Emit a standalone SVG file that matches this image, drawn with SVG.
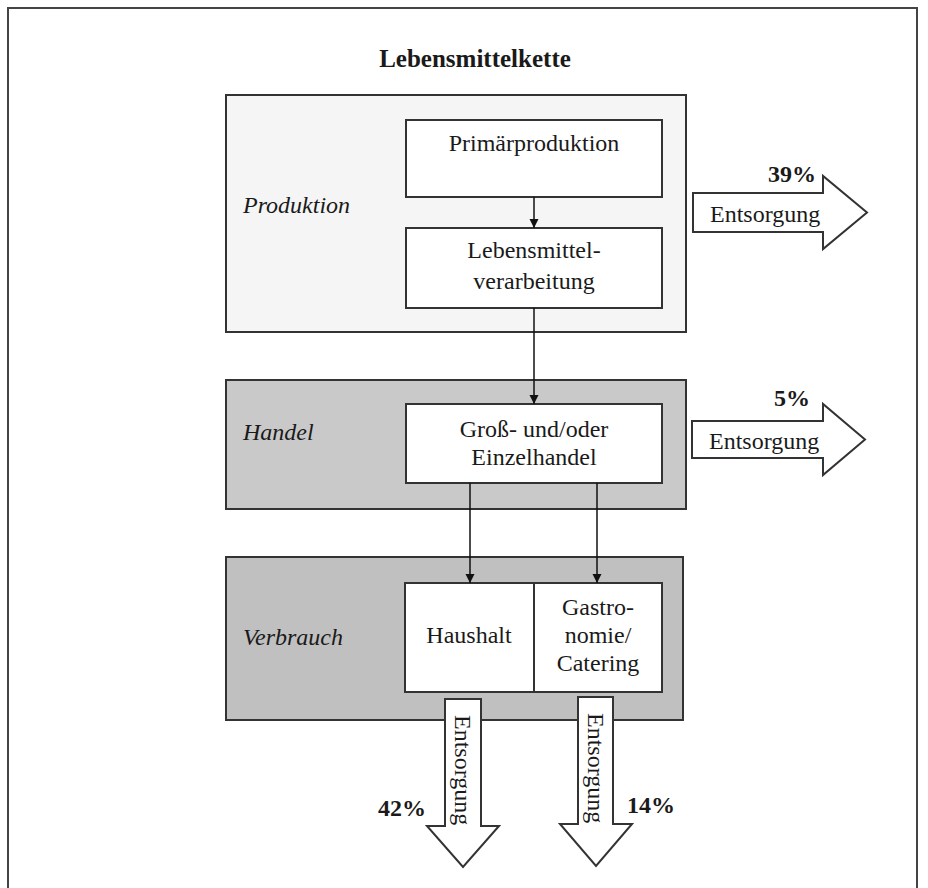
<svg xmlns="http://www.w3.org/2000/svg" width="928" height="888" viewBox="0 0 928 888">
  <style>
    .t { font-family: "Liberation Serif", "Times New Roman", serif; font-size: 24px; fill: #1a1a1a; }
    .c { text-anchor: middle; }
    .i { font-style: italic; }
    .b { font-weight: bold; }
    .title { font-size: 25px; }
    .box { fill: #ffffff; stroke: #333333; stroke-width: 2; }
    .big { stroke: #333333; stroke-width: 2; }
    .conn { stroke: #111111; stroke-width: 1.5; fill: none; marker-end: url(#ah); }
    .fat { fill: #ffffff; stroke: #333333; stroke-width: 2; stroke-linejoin: miter; }
  </style>
  <defs>
    <marker id="ah" viewBox="0 0 10 10" refX="10" refY="5" markerWidth="6" markerHeight="6.5" markerUnits="strokeWidth" orient="auto">
      <path d="M0,0 L10,5 L0,10 Z" fill="#111111"/>
    </marker>
  </defs>
  <rect width="928" height="888" fill="#ffffff"/>
  <rect x="8" y="8" width="909" height="900" fill="none" stroke="#444444" stroke-width="2"/>
  <text class="t c b title" x="475" y="67">Lebensmittelkette</text>

  <g id="produktion">
    <rect class="big" x="226" y="95" width="460" height="237" fill="#f5f5f5"/>
    <text class="t i" x="243" y="213">Produktion</text>
  </g>
  <g id="handel">
    <rect class="big" x="226" y="380" width="460" height="129" fill="#c9c9c9"/>
    <text class="t i" x="243" y="440">Handel</text>
  </g>
  <g id="verbrauch">
    <rect class="big" x="226" y="557" width="457" height="163" fill="#c0c0c0"/>
    <text class="t i" x="243" y="645">Verbrauch</text>
  </g>

  <g id="primaerproduktion">
    <rect class="box" x="406" y="120" width="256" height="77"/>
    <text class="t c" x="534" y="151">Primärproduktion</text>
  </g>
  <g id="verarbeitung">
    <rect class="box" x="406" y="228" width="256" height="80"/>
    <text class="t c" x="534" y="258">Lebensmittel-</text>
    <text class="t c" x="534" y="289">verarbeitung</text>
  </g>
  <g id="grosshandel">
    <rect class="box" x="406" y="404" width="256" height="79"/>
    <text class="t c" x="534" y="437">Groß- und/oder</text>
    <text class="t c" x="534" y="465">Einzelhandel</text>
  </g>
  <g id="haushalt">
    <rect class="box" x="405" y="583" width="129" height="109"/>
    <text class="t c" x="469" y="643">Haushalt</text>
  </g>
  <g id="gastronomie">
    <rect class="box" x="534" y="583" width="128" height="109"/>
    <text class="t c" x="598" y="615">Gastro-</text>
    <text class="t c" x="598" y="643">nomie/</text>
    <text class="t c" x="598" y="671">Catering</text>
  </g>

  <g id="connectors">
    <line class="conn" x1="534" y1="197" x2="534" y2="228"/>
    <line class="conn" x1="534" y1="308" x2="534" y2="404"/>
    <line class="conn" x1="470" y1="483" x2="470" y2="583"/>
    <line class="conn" x1="597" y1="483" x2="597" y2="583"/>
  </g>

  <g id="entsorgung-produktion">
    <polygon class="fat" points="693,193 823,193 823,176 867,212.5 823,249 823,232 693,232"/>
    <text class="t" x="710" y="222">Entsorgung</text>
    <text class="t b" x="816" y="182" text-anchor="end">39%</text>
  </g>
  <g id="entsorgung-handel">
    <polygon class="fat" points="692,421 823,421 823,404 865,439.5 823,475 823,458 692,458"/>
    <text class="t" x="709" y="449">Entsorgung</text>
    <text class="t b" x="810" y="406" text-anchor="end">5%</text>
  </g>
  <g id="entsorgung-haushalt">
    <polygon class="fat" points="445,699 481,699 481,826 499,826 463,867 427,826 445,826"/>
    <text class="t" transform="translate(455,715) rotate(90)">Entsorgung</text>
    <text class="t b" x="426" y="816" text-anchor="end">42%</text>
  </g>
  <g id="entsorgung-gastronomie">
    <polygon class="fat" points="578,697 613,697 613,824 632,824 596,866 560,824 578,824"/>
    <text class="t" transform="translate(588,713) rotate(90)">Entsorgung</text>
    <text class="t b" x="627" y="813">14%</text>
  </g>
</svg>
